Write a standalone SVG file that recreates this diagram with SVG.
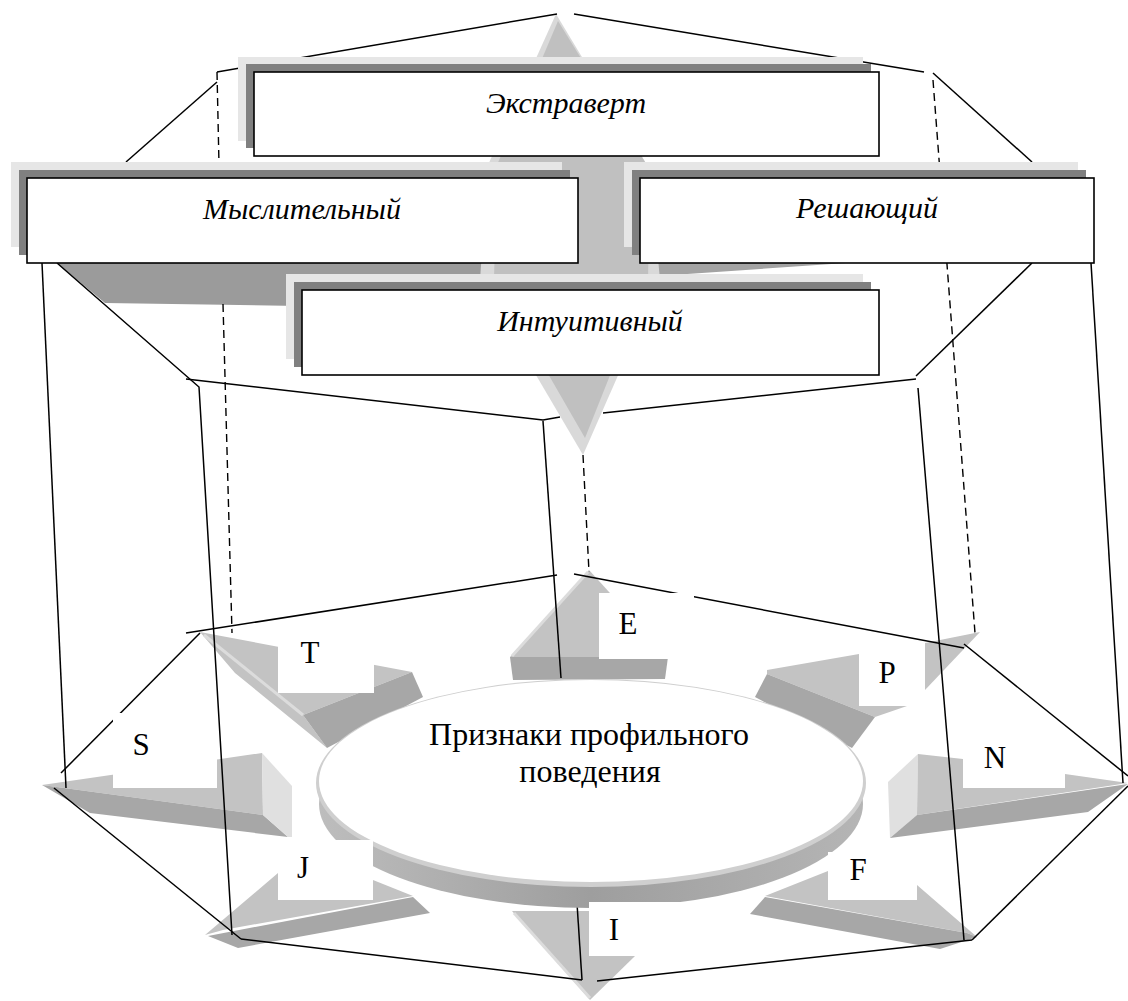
<svg xmlns="http://www.w3.org/2000/svg" width="1128" height="1001" viewBox="0 0 1128 1001">
<defs>
<style>
.ln{stroke:#000;stroke-width:1.5;fill:none}
.ds{stroke:#000;stroke-width:1.4;fill:none;stroke-dasharray:8 5}
.lt{fill:#e6e6e6}
.dk{fill:#808080}
.bx{fill:#fff;stroke:#000;stroke-width:1.6}
.tp{fill:#c3c3c3}
.sd{fill:#a7a7a7}
.cp{fill:#e0e0e0}
.hl{stroke:#dcdcdc;stroke-width:3;fill:none}
.lb{fill:#fff}
.bt{font-family:"Liberation Serif",serif;font-style:italic;font-size:30px;text-anchor:middle;fill:#000}
.lt2{font-family:"Liberation Serif",serif;font-size:31px;text-anchor:middle;fill:#000}
.ct{font-family:"Liberation Serif",serif;font-size:32px;text-anchor:middle;fill:#000}
</style>
<linearGradient id="bg" x1="0" y1="0" x2="1" y2="0">
<stop offset="0" stop-color="#bdbdbd"/>
<stop offset="0.5" stop-color="#9e9e9e"/>
<stop offset="1" stop-color="#b5b5b5"/>
</linearGradient>
</defs>
<rect width="1128" height="1001" fill="#fff"/>

<g id="bands">
<polygon fill="#9b9b9b" points="57,263 495,263 495,292 300,306 105,303"/>
<polygon fill="#a3a3a3" points="600,263 846,263 658,276 600,276"/>
</g>
<g id="axis-arrow">
<polygon fill="#d9d9d9" points="556,14 650,170 660,280 583,455 480,280 488,165"/>
<polygon fill="#c0c0c0" points="558,21 650,170 648,280 585,438 494,280 497,165"/>
</g>

<g id="ring-arrows">
<g id="arrow-T">
<polygon class="tp" points="200,632 412,672 303,715 327,748 235,673"/>
<polygon class="sd" points="412,672 423,697 327,748 303,715"/>
<line class="hl" x1="204" y1="635" x2="303" y2="715"/>
</g>
<g id="arrow-E">
<polygon class="tp" points="589,570 640,626 668,657 510,657"/>
<polygon class="sd" points="510,657 668,657 665,679 513,680"/>
<line class="hl" x1="512" y1="656" x2="588" y2="572"/>
</g>
<g id="arrow-P">
<polygon class="tp" points="767,670 859,654 859,706 907,706 875,717 767,674"/>
<polygon class="sd" points="767,674 875,717 852,748 755,697"/>
<polygon class="tp" points="925,643 980,632 925,690"/>
</g>
<g id="arrow-N">
<polygon class="cp" points="888,782 918,754 917,815 890,838"/>
<polygon class="tp" points="918,754 963,759 1065,774 1128,783 917,815"/>
<polygon class="sd" points="917,815 1128,784 1088,812 890,838"/>
</g>
<g id="arrow-S">
<polygon class="tp" points="42,785 262,753 263,815"/>
<polygon class="sd" points="42,785 263,815 288,837 90,813"/>
<polygon class="cp" points="262,753 292,786 292,837 288,837 263,815"/>
</g>
<g id="arrow-J">
<polygon class="tp" points="205,935 278,873 373,880 413,896 223,930"/>
<polygon class="sd" points="208,936 413,897 430,913 238,948"/>
</g>
<g id="arrow-F">
<polygon class="tp" points="765,896 828,871 917,885 977,937 967,933"/>
<polygon class="sd" points="750,914 765,897 967,933 977,937 940,949"/>
</g>
<g id="arrow-I">
<polygon class="tp" points="512,911 600,911 635,956 590,1000"/>
<line class="hl" x1="514" y1="913" x2="590" y2="998"/>
</g>
</g>

<g id="connectors">
<line class="ln" x1="217" y1="72" x2="557" y2="14"/>
<line class="ln" x1="574" y1="14" x2="924" y2="72"/>
<line class="ln" x1="217" y1="82" x2="126" y2="162"/>
<line class="ln" x1="933" y1="73" x2="1032" y2="162"/>
<line class="ds" x1="217" y1="72" x2="219" y2="165"/>
<line class="ds" x1="223" y1="304" x2="232" y2="633"/>
<line class="ds" x1="933" y1="80" x2="975" y2="633"/>
<line class="ds" x1="583" y1="455" x2="589" y2="572"/>
<polyline class="ln" points="57,263 199,387 232,935"/>
<polyline class="ln" points="186,379 543,420 560,417"/>
<line class="ln" x1="603" y1="413" x2="916" y2="379"/>
<line class="ln" x1="1032" y1="263" x2="916" y2="376"/>
<line class="ln" x1="918" y1="388" x2="964" y2="940"/>
<line class="ln" x1="42" y1="263" x2="66" y2="788"/>
<line class="ln" x1="1091" y1="263" x2="1123" y2="783"/>
<line class="ln" x1="543" y1="421" x2="561" y2="678"/>
<line class="ln" x1="576" y1="888" x2="582" y2="980"/>
<line class="ln" x1="186" y1="633" x2="557" y2="575"/>
<line class="ln" x1="574" y1="574" x2="964" y2="648"/>
<line class="ln" x1="964" y1="644" x2="1128" y2="776"/>
<line class="ln" x1="1128" y1="786" x2="972" y2="940"/>
<line class="ln" x1="972" y1="940" x2="597" y2="981"/>
<line class="ln" x1="582" y1="980" x2="241" y2="939"/>
<line class="ln" x1="241" y1="939" x2="54" y2="788"/>
<line class="ln" x1="61" y1="773" x2="200" y2="633"/>
</g>

<g id="node-extravert">
<rect class="lt" x="238" y="57" width="625" height="84"/>
<rect class="dk" x="246" y="64" width="625" height="84"/>
<rect class="bx" x="254" y="72" width="625" height="84"/>
<text class="bt" x="566" y="113">Экстраверт</text>
</g>
<g id="node-thinking">
<rect class="lt" x="11" y="162" width="551" height="85"/>
<rect class="dk" x="19" y="170" width="551" height="85"/>
<rect class="bx" x="27" y="178" width="551" height="85"/>
<text class="bt" x="302" y="219">Мыслительный</text>
</g>
<g id="node-judging">
<rect class="lt" x="624" y="162" width="454" height="85"/>
<rect class="dk" x="632" y="170" width="454" height="85"/>
<rect class="bx" x="640" y="178" width="454" height="85"/>
<text class="bt" x="867" y="218">Решающий</text>
</g>
<g id="node-intuitive">
<rect class="lt" x="286" y="274" width="577" height="85"/>
<rect class="dk" x="294" y="282" width="577" height="85"/>
<rect class="bx" x="302" y="290" width="577" height="85"/>
<text class="bt" x="590" y="331">Интуитивный</text>
</g>

<g id="node-center">
<ellipse cx="591" cy="804" rx="272" ry="104" fill="url(#bg)"/>
<ellipse cx="591" cy="783" rx="275" ry="104" fill="#cfcfcf"/>
<ellipse cx="591" cy="781" rx="272" ry="101" fill="#fff"/>
<text class="ct" x="589" y="745">Признаки профильного</text>
<text class="ct" x="590" y="782">поведения</text>
</g>

<g id="labels">
<g id="label-T"><rect class="lb" x="278" y="635" width="96" height="58"/><text class="lt2" x="310" y="663">T</text></g>
<g id="label-E"><rect class="lb" x="599" y="593" width="95" height="66"/><text class="lt2" x="628" y="634">E</text></g>
<g id="label-P"><rect class="lb" x="859" y="646" width="66" height="60"/><text class="lt2" x="887" y="683">P</text></g>
<g id="label-N"><rect class="lb" x="963" y="740" width="102" height="48"/><text class="lt2" x="995" y="768">N</text></g>
<g id="label-F"><rect class="lb" x="828" y="852" width="89" height="48"/><text class="lt2" x="858" y="880">F</text></g>
<g id="label-I"><rect class="lb" x="589" y="902" width="93" height="54"/><text class="lt2" x="614" y="940">I</text></g>
<g id="label-J"><rect class="lb" x="278" y="840" width="95" height="60"/><text class="lt2" x="303" y="878">J</text></g>
<g id="label-S"><rect class="lb" x="113" y="713" width="104" height="75"/><text class="lt2" x="141" y="755">S</text></g>
</g>
</svg>
